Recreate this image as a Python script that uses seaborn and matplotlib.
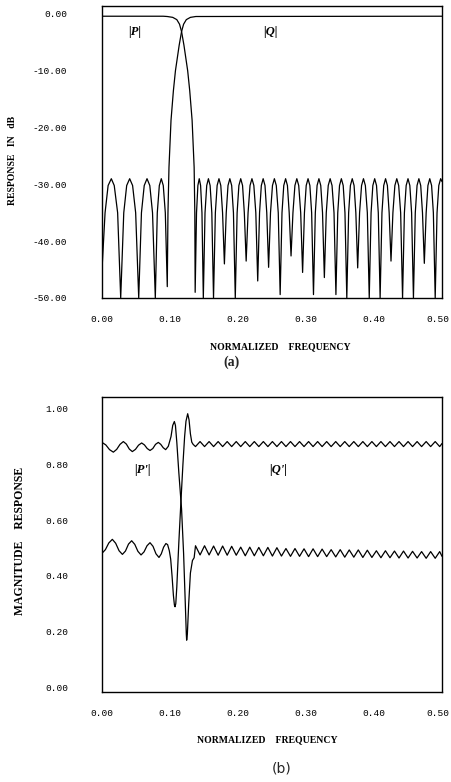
import matplotlib
matplotlib.use("Agg")
import matplotlib.pyplot as plt
import matplotlib.transforms as mtransforms
import seaborn as sns

# ---------------- (a) response in dB ----------------
# |P| : passband and transition
p_pass_f = [0.0, 0.090, 0.096, 0.104, 0.110, 0.114, 0.117, 0.1205, 0.126, 0.129, 0.1325, 0.1355, 0.1365, 0.137]
p_pass_db = [-0.4, -0.4, -0.45, -0.6, -1.0, -1.8, -3.1, -5.5, -10.0, -13.5, -18.7, -27.0, -35.0, -49.0]
# |P| : stopband lobes (read vertex by vertex)
p_stop_f = [
    0.139, 0.141, 0.143, 0.145, 0.147, 0.149,
    0.1515, 0.154, 0.1565, 0.159, 0.1615, 0.164,
    0.1667, 0.1693, 0.172, 0.1747, 0.1773, 0.180,
    0.1827, 0.1853, 0.188, 0.1907, 0.1933, 0.196,
    0.1987, 0.2013, 0.204, 0.2067, 0.2093, 0.212,
    0.2148, 0.2177, 0.2205, 0.2233, 0.2262, 0.229,
    0.2317, 0.2343, 0.237, 0.2397, 0.2423, 0.245,
    0.2478, 0.2507, 0.2535, 0.2563, 0.2592, 0.262,
    0.2647, 0.2673, 0.270, 0.2727, 0.2753, 0.278,
    0.2808, 0.2837, 0.2865, 0.2893, 0.2922, 0.295,
    0.2977, 0.3003, 0.303, 0.3057, 0.3083, 0.311,
    0.3137, 0.3163, 0.319, 0.3217, 0.3243, 0.327,
    0.3298, 0.3327, 0.3355, 0.3383, 0.3412, 0.344,
    0.3467, 0.3493, 0.352, 0.3547, 0.3573, 0.360,
    0.3627, 0.3653, 0.368, 0.3707, 0.3733, 0.376,
    0.3788, 0.3817, 0.3845, 0.3873, 0.3902, 0.393,
    0.3957, 0.3983, 0.401, 0.4037, 0.4063, 0.409,
    0.4117, 0.4143, 0.417, 0.4197, 0.4223, 0.425,
    0.4278, 0.4307, 0.4335, 0.4363, 0.4392, 0.442,
    0.4447, 0.4473, 0.450, 0.4527, 0.4553, 0.458,
    0.4607, 0.4633, 0.466, 0.4687, 0.4713, 0.474,
    0.4767, 0.4793, 0.482, 0.4847, 0.4873, 0.490,
    0.4927, 0.4953, 0.498, 0.500,
]
p_stop_db = [
    -35, -30.2, -29, -30.2, -35, -50,
    -35, -30.2, -29, -30.2, -35, -50,
    -35, -30.2, -29, -30.2, -35, -44,
    -35, -30.2, -29, -30.2, -35, -50,
    -35, -30.2, -29, -30.2, -35, -43.5,
    -35, -30.2, -29, -30.2, -35, -47,
    -35, -30.2, -29, -30.2, -35, -44.6,
    -35, -30.2, -29, -30.2, -35, -49.4,
    -35, -30.2, -29, -30.2, -35, -42.6,
    -35, -30.2, -29, -30.2, -35, -45.5,
    -35, -30.2, -29, -30.2, -35, -49.4,
    -35, -30.2, -29, -30.2, -35, -46.4,
    -35, -30.2, -29, -30.2, -35, -49.4,
    -35, -30.2, -29, -30.2, -35, -50,
    -35, -30.2, -29, -30.2, -35, -44.7,
    -35, -30.2, -29, -30.2, -35, -50,
    -35, -30.2, -29, -30.2, -35, -50,
    -35, -30.2, -29, -30.2, -35, -43.5,
    -35, -30.2, -29, -30.2, -35, -50,
    -35, -30.2, -29, -30.2, -35, -50,
    -35, -30.2, -29, -30.2, -35, -43.9,
    -35, -30.2, -29, -30.2, -35, -50,
    -35, -30.2, -29, -29.5,
]
# |Q| : stopband lobes then transition and passband
q_stop_f = [0.0, 0.0045, 0.009, 0.0137, 0.018, 0.023, 0.0275,
            0.032, 0.0363, 0.0407, 0.045, 0.0495, 0.054,
            0.058, 0.0621, 0.0662, 0.0703, 0.0743, 0.0784,
            0.0813, 0.0843, 0.0872, 0.0901, 0.0931, 0.096]
q_stop_db = [-45, -35, -30.2, -29, -30.2, -35, -50,
             -35, -30.2, -29, -30.2, -35, -50,
             -35, -30.2, -29, -30.2, -35, -50,
             -35, -30.2, -29, -30.2, -35, -48]
q_pass_f = [0.097, 0.0985, 0.1015, 0.105, 0.108, 0.1135, 0.117, 0.120, 0.124, 0.130, 0.138, 0.500]
q_pass_db = [-35, -27, -18.7, -13.5, -10.0, -5.5, -3.1, -1.8, -1.0, -0.6, -0.45, -0.4]

# ---------------- (b) magnitude response ----------------
# |P'| : upper on the left, lower on the right
pp_left_f = [0.0, 0.0056, 0.0111, 0.0167, 0.0216, 0.0265, 0.0314, 0.0358, 0.0402, 0.0446,
             0.0492, 0.0537, 0.0583, 0.0624, 0.0665, 0.0706, 0.0747, 0.0787, 0.0828, 0.0864,
             0.0900, 0.0936, 0.0975, 0.1015, 0.104, 0.1064, 0.108, 0.110, 0.113, 0.117,
             0.120, 0.1225, 0.124, 0.1245, 0.1255, 0.1275, 0.130, 0.133, 0.1355]
pp_left_v = [0.879, 0.870, 0.853, 0.844, 0.854, 0.872, 0.882, 0.873, 0.855, 0.846,
             0.854, 0.869, 0.877, 0.870, 0.857, 0.850, 0.857, 0.872, 0.879, 0.872,
             0.860, 0.853, 0.865, 0.900, 0.940, 0.954, 0.940, 0.880, 0.770, 0.640,
             0.480, 0.300, 0.190, 0.169, 0.190, 0.300, 0.410, 0.455, 0.465]
# |Q'| : lower on the left, upper on the right
qp_left_f = [0.0, 0.005, 0.010, 0.0152, 0.0201, 0.0251, 0.030, 0.0345, 0.039, 0.0436,
             0.0482, 0.0528, 0.0574, 0.0618, 0.0662, 0.0706, 0.075, 0.0794, 0.0838, 0.0872,
             0.0906, 0.094, 0.0965, 0.099, 0.101, 0.103, 0.105, 0.1065, 0.1074, 0.1085,
             0.110, 0.113, 0.1162, 0.119, 0.1215, 0.1235, 0.126, 0.128, 0.130, 0.132, 0.134]
qp_left_v = [0.481, 0.494, 0.518, 0.531, 0.517, 0.490, 0.477, 0.489, 0.514, 0.526,
             0.513, 0.488, 0.475, 0.486, 0.508, 0.519, 0.506, 0.479, 0.466, 0.479,
             0.503, 0.516, 0.512, 0.490, 0.460, 0.400, 0.330, 0.295, 0.289, 0.300,
             0.360, 0.520, 0.673, 0.800, 0.900, 0.955, 0.982, 0.960, 0.910, 0.880, 0.872]
# small ripples on the right half (shared ripple vertices)
rip_f = [0.1375, 0.1442, 0.1508, 0.1575, 0.1641, 0.1708, 0.1774, 0.1841, 0.1907, 0.1974,
         0.2040, 0.2107, 0.2173, 0.2240, 0.2306, 0.2373, 0.2439, 0.2506, 0.2572, 0.2639,
         0.2705, 0.2772, 0.2838, 0.2905, 0.2971, 0.3038, 0.3104, 0.3171, 0.3237, 0.3304,
         0.3370, 0.3437, 0.3503, 0.3570, 0.3636, 0.3703, 0.3769, 0.3836, 0.3902, 0.3969,
         0.4035, 0.4102, 0.4168, 0.4235, 0.4301, 0.4368, 0.4434, 0.4501, 0.4567, 0.4634,
         0.4700, 0.4767, 0.4833, 0.4900, 0.4966, 0.5000]
qp_rip_v = [0.864, 0.882, 0.864, 0.882, 0.864, 0.882, 0.864, 0.882, 0.864, 0.882,
            0.864, 0.882, 0.864, 0.882, 0.864, 0.882, 0.864, 0.882, 0.864, 0.882,
            0.864, 0.882, 0.864, 0.882, 0.864, 0.882, 0.864, 0.882, 0.864, 0.882,
            0.864, 0.882, 0.864, 0.882, 0.864, 0.882, 0.864, 0.882, 0.864, 0.882,
            0.864, 0.882, 0.864, 0.882, 0.864, 0.882, 0.864, 0.882, 0.864, 0.882,
            0.864, 0.882, 0.864, 0.882, 0.864, 0.875]
pp_rip_v = [0.508, 0.475, 0.508, 0.475, 0.507, 0.474, 0.507, 0.474, 0.506, 0.474,
            0.503, 0.472, 0.503, 0.472, 0.502, 0.472, 0.502, 0.471, 0.501, 0.471,
            0.498, 0.470, 0.498, 0.470, 0.497, 0.469, 0.497, 0.469, 0.496, 0.469,
            0.494, 0.468, 0.494, 0.467, 0.493, 0.467, 0.493, 0.466, 0.492, 0.466,
            0.490, 0.465, 0.490, 0.465, 0.489, 0.464, 0.489, 0.464, 0.488, 0.464,
            0.487, 0.463, 0.487, 0.463, 0.487, 0.470]

x_ticks = [0.0, 0.1, 0.2, 0.3, 0.4, 0.5]
x_ticklabels = ["0.00", "0.10", "0.20", "0.30", "0.40", "0.50"]
ya_ticks = [0, -10, -20, -30, -40, -50]
ya_ticklabels = ["0.00", "-10.00", "-20.00", "-30.00", "-40.00", "-50.00"]
yb_ticks = [0.0, 0.2, 0.4, 0.6, 0.8, 1.0]
yb_ticklabels = ["0.00", "0.20", "0.40", "0.60", "0.80", "1.00"]

sns.set_theme(style="white")
plt.rcParams["font.family"] = ["DejaVu Sans"]

W, H = 452, 782
fig = plt.figure(figsize=(W / 100, H / 100), dpi=100)
fig.patch.set_facecolor("white")

def fx(px):
    return px / W

def fy(py):
    return 1 - py / H

ax1 = fig.add_axes([fx(102), fy(298), fx(442) - fx(102), fy(6) - fy(298)])
ax2 = fig.add_axes([fx(102), fy(692), fx(442) - fx(102), fy(397) - fy(692)])

lw = 0.9
kw = dict(color="black", linewidth=lw, sort=False, estimator=None, legend=False)
sns.lineplot(x=p_pass_f + p_stop_f, y=p_pass_db + p_stop_db, ax=ax1, **kw)
sns.lineplot(x=q_stop_f + q_pass_f, y=q_stop_db + q_pass_db, ax=ax1, **kw)

sns.lineplot(x=pp_left_f + rip_f, y=pp_left_v + pp_rip_v, ax=ax2, **kw)
sns.lineplot(x=qp_left_f + rip_f, y=qp_left_v + qp_rip_v, ax=ax2, **kw)

ax1.set_xlim(0, 0.5)
ax1.set_ylim(-50, 1.4)
ax2.set_xlim(0, 0.5)
ax2.set_ylim(-0.017, 1.042)

tick_font = dict(family="Liberation Mono", size=6.8)
for ax, yt, ytl, ypad in [(ax1, ya_ticks, ya_ticklabels, 25), (ax2, yb_ticks, yb_ticklabels, 24)]:
    ax.set_xticks(x_ticks)
    ax.set_xticklabels(x_ticklabels, fontdict=tick_font)
    ax.set_yticks(yt)
    ax.set_yticklabels(ytl, fontdict=tick_font)
    ax.tick_params(axis="y", direction="in", length=3, width=0.8, pad=ypad, colors="black")
    ax.tick_params(axis="x", direction="in", length=3, width=0.8, pad=12, colors="black")
    for s in ax.spines.values():
        s.set_color("black")
        s.set_linewidth(1.0)
        s.set_visible(True)
    ax.set_xlabel("")
    ax.set_ylabel("")
    ax.set_facecolor("white")
    ax.grid(False)
    # the last frequency label sits a little left of its tick, inside the page
    last = ax.get_xticklabels()[-1]
    last.set_transform(last.get_transform() + mtransforms.ScaledTranslation(-4 / 100, 0, fig.dpi_scale_trans))

lab_font = dict(family="Liberation Serif", size=7, weight="bold", color="black")
fig.text(fx(13), fy(160), "RESPONSE   IN   dB", rotation=90, ha="center", va="center", **lab_font)
fig.text(fx(20), fy(541), "MAGNITUDE    RESPONSE", rotation=90, ha="center", va="center",
         family="Liberation Serif", size=8.5, weight="bold", color="black")
fig.text(fx(280), fy(347), "NORMALIZED    FREQUENCY", ha="center", va="center", **lab_font)
fig.text(fx(267), fy(740), "NORMALIZED    FREQUENCY", ha="center", va="center", **lab_font)
fig.text(fx(232), fy(362), "(a)", ha="center", va="center", family="Liberation Serif", size=10, weight="bold")
fig.text(fx(282), fy(768), "(b)", ha="center", va="center", family="DejaVu Sans", size=10)

curve_font = dict(family="Liberation Serif", size=9, weight="bold", style="italic", color="black")
ax1.text(0.0485, -3.2, "|P|", ha="center", va="center", **curve_font)
ax1.text(0.247, -3.2, "|Q|", ha="center", va="center", **curve_font)
ax2.text(0.0596, 0.78, "|P'|", ha="center", va="center", **curve_font)
ax2.text(0.259, 0.78, "|Q'|", ha="center", va="center", **curve_font)

fig.savefig("out.png", dpi=100, facecolor="white")
